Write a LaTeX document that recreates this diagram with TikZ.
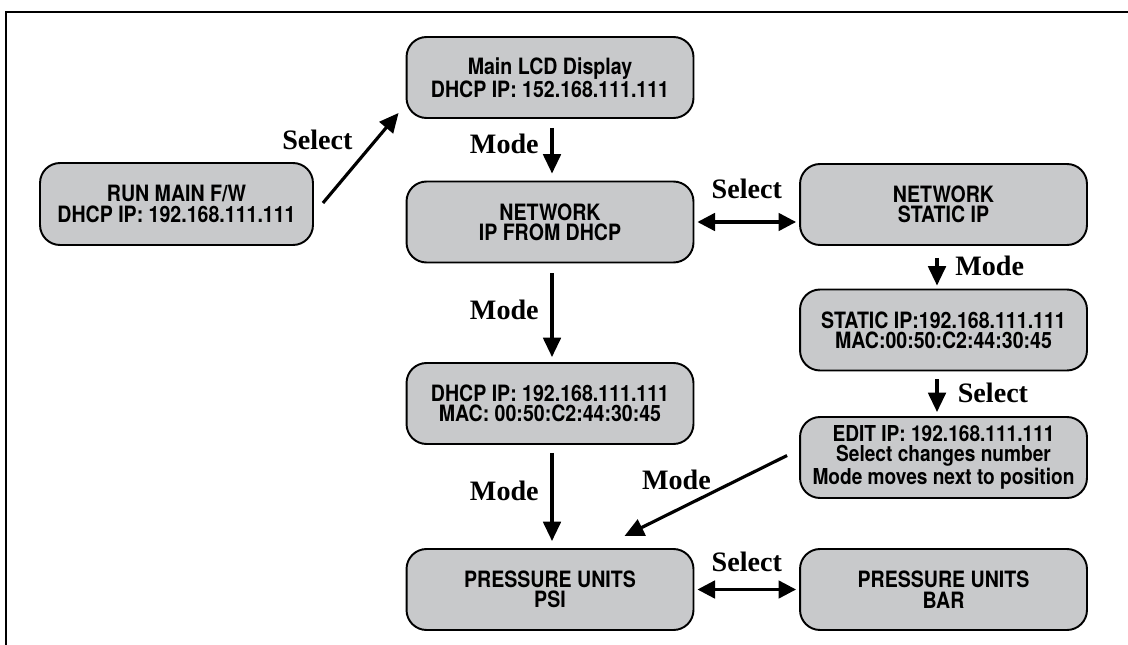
\documentclass[tikz,border=0pt]{standalone}
\usepackage{fontspec}
\setmainfont{Liberation Serif}
\newfontfamily\boxfont[FakeStretch=0.87]{TeX Gyre Heros}
\usetikzlibrary{calc}
\usetikzlibrary{arrows.meta}
\definecolor{boxgray}{RGB}{200,201,203}
\tikzset{
    screen/.style={draw, line width=1.1pt, fill=boxgray, rounded corners=0.4cm, minimum width=5.74cm, minimum height=1.62cm, inner sep=0pt, align=center, font=\boxfont\bfseries\fontsize{12.8}{11.6}\selectfont},
    arr/.style={line width=1.8pt, -{Triangle[length=11pt,width=10pt]}},
    darr/.style={line width=1.8pt, {Triangle[length=10pt,width=10pt]}-{Triangle[length=10pt,width=10pt]}, shorten <=0.06cm, shorten >=0.06cm},
    key/.style={font=\bfseries\fontsize{16}{16}\selectfont, inner sep=1pt}
}

\begin{document}
\begin{tikzpicture}[x=0.02cm, y=-0.02cm]
    \useasboundingbox (0,0) rectangle (1128,645);
    \draw [line width=1.2pt](6,645) -- (6,12) -- (1128,12);
    \node [screen, minimum width=5.46cm, minimum height=1.64cm](run) at (176.5,204) {RUN MAIN F/W\\DHCP IP: 192.168.111.111};
    \node [screen](lcd) at (550,77.5) {Main LCD Display\\DHCP IP: 152.168.111.111};
    \node [screen](netdhcp) at (550,222) {NETWORK\\IP FROM DHCP};
    \node [screen](dhcpip) at (550,403.5) {DHCP IP: 192.168.111.111\\MAC: 00:50:C2:44:30:45};
    \node [screen](psi) at (550,589.5) {PRESSURE UNITS\\PSI};
    \node [screen](netstatic) at (943.5,204.5) {NETWORK\\STATIC IP};
    \node [screen](staticip) at (943.5,330) {STATIC IP:192.168.111.111\\MAC:00:50:C2:44:30:45};
    \node [screen, font=\boxfont\bfseries\fontsize{12.5}{11}\selectfont](edit) at (943.5,457.5) {EDIT IP: 192.168.111.111\\Select changes number\\Mode moves next to position};
    \node [screen](bar) at (943.5,589.5) {PRESSURE UNITS\\BAR};
    \draw [arr]($(run.east)+(9,-1)$) -- ($(lcd.south west)+(-7,-6)$) node [key, pos=0.7, left=0.4cm] {Select};
    \draw [arr]($(lcd.south)+(2,9)$) -- ($(netdhcp.north)+(2,-7)$) node [key, pos=0.35, left=0.2cm] {Mode};
    \draw [darr](netdhcp.east) -- (netdhcp.east -| netstatic.west) node [key, midway, above=0.4cm] {Select};
    \draw [arr]($(netdhcp.south)+(2,10)$) -- ($(dhcpip.north)+(2,-5)$) node [key, pos=0.43, left=0.2cm] {Mode};
    \draw [arr]($(dhcpip.south)+(2,8)$) -- ($(psi.north)+(2,-7)$) node [key, pos=0.43, left=0.2cm] {Mode};
    \draw [arr]($(netstatic.south)+(-6.5,12)$) -- ($(staticip.north)+(-6.5,-3)$) node [key, pos=0.3, right=0.3cm] {Mode};
    \draw [arr]($(staticip.south)+(-6.5,8)$) -- ($(edit.north)+(-6.5,-4)$) node [key, pos=0.4, right=0.35cm] {Select};
    \draw [arr]($(edit.west)+(-12,-2)$) -- ($(psi.north east)+(-70,-12)$) node [key, pos=0.68, above=0.35cm] {Mode};
    \draw [darr](psi.east) -- (bar.west) node [key, midway, above=0.28cm] {Select};
\end{tikzpicture}
\end{document}
